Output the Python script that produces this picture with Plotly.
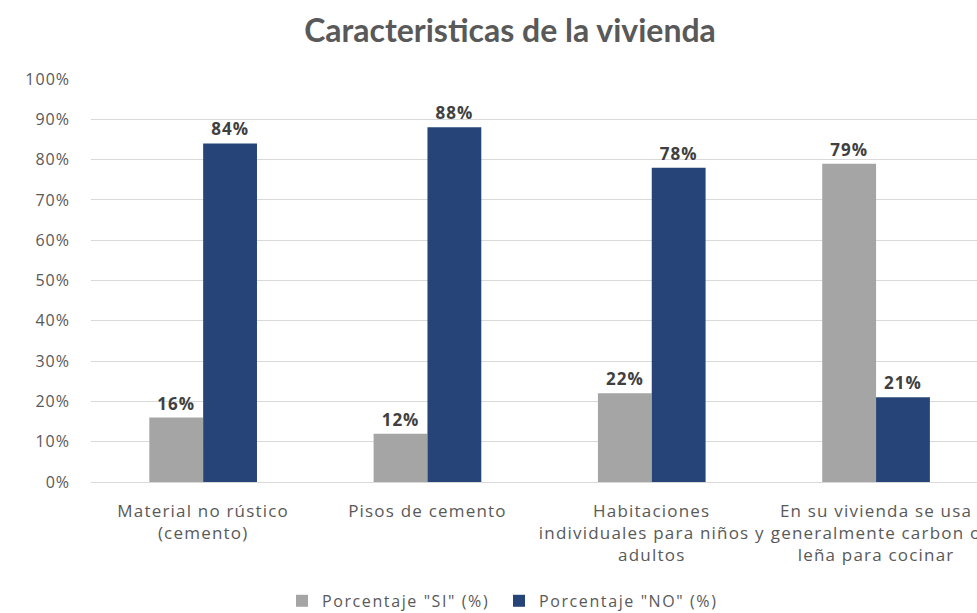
import plotly.graph_objects as go

categories = [
    "Material no rústico<br>(cemento)",
    "Pisos de cemento",
    "Habitaciones<br>individuales para niños y<br>adultos",
    "En su vivienda se usa<br>generalmente carbon o<br>leña para cocinar",
]
si_values = [16, 12, 22, 79]
no_values = [84, 88, 78, 21]
series_names = ['Porcentaje "SI" (%)', 'Porcentaje "NO" (%)']
tick_vals = list(range(0, 101, 10))
tick_text = [f"{v}%" for v in tick_vals]

label_font = dict(family="Open Sans", size=17, color="#404040", weight="bold")

fig = go.Figure()
fig.add_trace(go.Bar(
    x=categories, y=si_values, name=series_names[0],
    marker=dict(color="#a5a5a5", line=dict(width=0)),
    texttemplate="%{y}%", textposition="outside",
    textfont=label_font, cliponaxis=False,
))
fig.add_trace(go.Bar(
    x=categories, y=no_values, name=series_names[1],
    marker=dict(color="#264478", line=dict(width=0)),
    texttemplate="%{y}%", textposition="outside",
    textfont=label_font, cliponaxis=False,
))

fig.update_layout(
    width=977, height=613,
    paper_bgcolor="white", plot_bgcolor="white",
    margin=dict(l=91, r=0, t=79, b=131, autoexpand=False),
    barmode="group", bargap=0.52, bargroupgap=0,
    title=dict(text="<b>Caracteristicas de la vivienda</b>", x=0.522, xanchor="center",
               y=0.95, yanchor="middle",
               font=dict(family="Lato", size=32, color="#595959")),
    font=dict(family="Open Sans", size=16, color="#595959"),
    xaxis=dict(range=[-0.5, 3.45], showgrid=False, showline=False, ticks="",
               ticklabelstandoff=17, tickangle=0, automargin=False,
               tickfont=dict(family="Open Sans", size=17, color="#595959")),
    yaxis=dict(range=[0, 100], tickvals=tick_vals, ticktext=tick_text,
               showgrid=True, gridcolor="#d9d9d9", gridwidth=1.3,
               zeroline=True, zerolinecolor="#d9d9d9", zerolinewidth=1.3,
               ticks="", ticklabelstandoff=20, automargin=False,
               tickfont=dict(family="Open Sans", size=16, color="#595959")),
    legend=dict(orientation="h", x=0.2156, xanchor="left",
                y=-0.295, yanchor="middle",
                font=dict(family="Open Sans", size=16, color="#595959"),
                itemwidth=30, entrywidth=172, entrywidthmode="pixels",
                traceorder="normal"),
    showlegend=True,
)

post = """
document.body.style.margin='0';
document.querySelectorAll('.xtick text').forEach(function(t){t.style.letterSpacing='1.2px';});
document.querySelectorAll('.legendtext').forEach(function(t){t.style.letterSpacing='1.6px';});
document.querySelectorAll('.ytick text').forEach(function(t){t.style.letterSpacing='1px';});
document.querySelectorAll('.bartext').forEach(function(t){t.style.letterSpacing='1px';});
"""
fig.write_html("out.html", post_script=post, config={"displayModeBar": False})
